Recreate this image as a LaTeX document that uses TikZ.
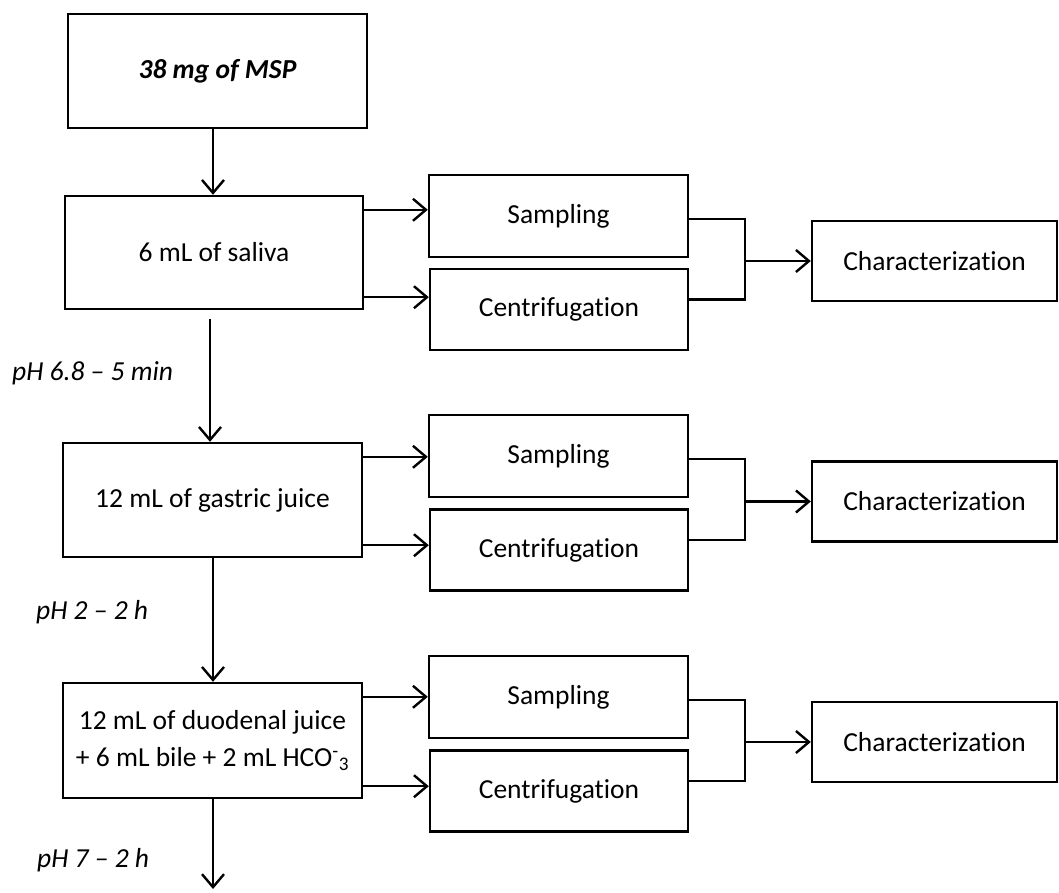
\documentclass[tikz,border=0pt]{standalone}
\usepackage{fontspec}
\setmainfont{Carlito}[Ligatures=NoCommon]
\usetikzlibrary{arrows.meta,calc}
\begin{document}
\begin{tikzpicture}[x=1pt,y=-1pt,
  box/.style={draw, line width=2.4pt, inner sep=2pt, align=center, font=\fontsize{27.5}{37}\selectfont},
  conn/.style={line width=2.4pt},
  arr/.style={line width=2.4pt, -{Straight Barb[length=13pt,width=22pt,line width=2.4pt]}},
  lbl/.style={inner sep=0pt, anchor=west, font=\fontsize{27.5}{33}\selectfont\itshape}]
\useasboundingbox (0,0) rectangle (1059,893);
% main column
\node[box, minimum width=299pt, minimum height=114pt] (top) at (217.5,71) {\bfseries\itshape 38 mg of MSP};
\node[box, minimum width=298pt, minimum height=113pt] (sal) at (214,252.5) {6 mL of saliva};
\node[box, minimum width=299pt, minimum height=114pt] (gas) at (212.5,500) {12 mL of gastric juice};
\node[box, minimum width=299pt, minimum height=115pt] (duo) at (212.5,740.5) {12 mL of duodenal juice\\+ 6 mL bile + 2 mL HCO\textsuperscript{-}\textsubscript{3}};
% side boxes
\foreach \i/\yS/\yC/\yK in {1/216/309.5/261, 2/456/550/501.5, 3/697/791/742}{
  \node[box, minimum width=259pt, minimum height=82pt] (samp\i) at (558.5,\yS) {Sampling};
  \node[box, minimum width=258pt, minimum height=81pt] (cent\i) at (559,\yC) {Centrifugation};
  \node[box, minimum width=245pt, minimum height=80pt] (char\i) at (934.5,\yK) {Characterization};
}
% labels
\node[lbl] (l1) at (12,373) {pH 6.8 – 5 min};
\node[lbl] (l2) at (36,612) {pH 2 – 2 h};
\node[lbl] (l3) at (37,860) {pH 7 – 2 h};
% helper coordinates
\coordinate (ax) at (213,0);
\coordinate (bx) at (210,0);
\coordinate (jx) at (745,0);
\coordinate (endp) at (213,889);
% vertical arrows
\draw[arr] (top.south -| ax) -- (sal.north -| ax);
\draw[arr, shorten <=9pt] (sal.south -| bx) -- (gas.north -| bx);
\draw[arr] (gas.south -| ax) -- (duo.north -| ax);
\draw[arr] (duo.south -| ax) -- (endp);
% branches from main boxes
\foreach \m/\i in {sal/1, gas/2, duo/3}{
  \coordinate (ua\i) at ($(\m.north east)+(0,-15pt)$);
  \coordinate (la\i) at ($(\m.south east)+(0,13pt)$);
  \draw[arr] (ua\i) -- (ua\i -| samp\i.west);
  \draw[arr] (la\i) -- (la\i -| cent\i.west);
  \coordinate (js\i) at ($(samp\i.east)+(0,-3pt)$);
  \coordinate (jc\i) at ($(cent\i.east)+(0,10pt)$);
  \draw[conn] (js\i) -| (jx |- jc\i) -- (jc\i);
  \draw[arr] (jx |- char\i.west) -- (char\i.west);
}
\end{tikzpicture}
\end{document}
